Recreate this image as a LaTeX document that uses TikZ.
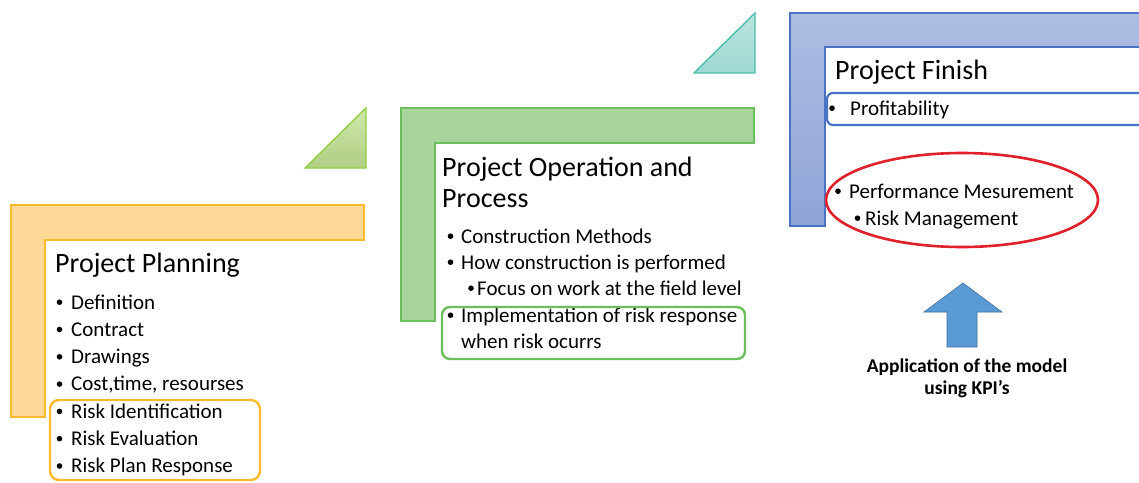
\documentclass[tikz,border=0pt]{standalone}
\usepackage{fontspec}
\setmainfont{Carlito}
\usetikzlibrary{shapes.geometric}
\definecolor{orFill}{HTML}{FDD896}
\definecolor{orLine}{HTML}{F8BA2C}
\definecolor{grFill}{HTML}{A9D59C}
\definecolor{grLine}{HTML}{6ABF5A}
\definecolor{blFillT}{HTML}{AEBDE3}
\definecolor{blFillB}{HTML}{8FA4D7}
\definecolor{blLine}{HTML}{4A72C4}
\definecolor{triGrF}{HTML}{BFE08F}
\definecolor{triGrL}{HTML}{92CF45}
\definecolor{triTeF}{HTML}{9ED8D0}
\definecolor{triTeL}{HTML}{4BBFAE}
\definecolor{arrF}{HTML}{5B9BD5}
\definecolor{arrL}{HTML}{41719C}
\definecolor{redL}{HTML}{E0202A}
\newcommand\bitem[5]{%
  \node[bdot] (#1d) at (#2,#4-6.8) {};
  \node[btext] (#1) at (#3,#4) {#5};}
\begin{document}
\begin{tikzpicture}[x=1pt,y=-1pt,
  lshape/.style={line width=1.6pt,line join=miter},
  ttl/.style={anchor=base west,inner sep=0pt,font=\fontsize{28}{33}\selectfont},
  btext/.style={anchor=base west,inner sep=0pt,font=\fontsize{21}{25}\selectfont},
  bdot/.style={circle,fill=black,inner sep=0pt,minimum size=5.6pt},
  hbox/.style={rounded corners=9pt,line width=2.4pt},
  note/.style={align=center,inner sep=0pt,font=\fontsize{19.5}{23}\selectfont\bfseries}]
\useasboundingbox (0,0) rectangle (1139,482);
\clip (0,0) rectangle (1139,482);
\fill[white] (0,0) rectangle (1139,482);
% orange L
\draw[lshape,draw=orLine,fill=orFill] (11,205) -- (364,205) -- (364,240) -- (45,240) -- (45,417) -- (11,417) -- cycle;
% green triangle
\draw[line width=1.4pt,draw=triGrL,top color=triGrF!75!white,bottom color=triGrF!92!black] (305,168) -- (366,108) -- (366,168) -- cycle;
% green L
\draw[lshape,draw=grLine,fill=grFill] (401,108) -- (754,108) -- (754,143) -- (435,143) -- (435,321) -- (401,321) -- cycle;
% teal triangle
\draw[line width=1.4pt,draw=triTeL,top color=triTeF!70!white,bottom color=triTeF] (694,73) -- (755,13) -- (755,73) -- cycle;
% blue L
\draw[lshape,draw=blLine,top color=blFillT,bottom color=blFillB] (790,13) -- (1150,13) -- (1150,47) -- (825,47) -- (825,226) -- (790,226) -- cycle;

% orange section
\node[ttl] (t1) at (55,272) {Project Planning};
\bitem{o1}{59.5}{71}{309}{Definition}
\bitem{o2}{59.5}{71}{336.3}{Contract}
\bitem{o3}{59.5}{71}{363.6}{Drawings}
\bitem{o4}{59.5}{71}{390.9}{Cost,time, resourses}
\bitem{o5}{59.5}{71}{418.2}{Risk Identification}
\bitem{o6}{59.5}{71}{445.5}{Risk Evaluation}
\bitem{o7}{59.5}{71}{472.8}{Risk Plan Response}
\draw[hbox,draw=orLine] (50,400) rectangle (260,480);

% green section
\node[ttl] (t2a) at (442,176) {Project Operation and};
\node[ttl] (t2b) at (442,207) {Process};
\bitem{g1}{450.5}{461}{243}{Construction Methods}
\bitem{g2}{450.5}{461}{269}{How construction is performed}
\bitem{g3}{471}{477}{295}{Focus on work at the field level}
\bitem{g4}{450.5}{461}{322}{Implementation of risk response}
\node[btext] (g5) at (461,348) {when risk ocurrs};
\draw[hbox,draw=grLine,rounded corners=8pt] (442,307) rectangle (745,359);

% blue section
\node[ttl] (t3) at (835,79) {Project Finish};
\bitem{b1}{832}{850}{115}{Profitability}
\draw[hbox,draw=blLine,line width=2.2pt,rounded corners=6pt] (827,93) rectangle (1160,125);
\bitem{b2}{838}{849}{198}{Performance Mesurement}
\bitem{b3}{857.5}{865}{225}{Risk Management}
\node[draw=redL,line width=2.6pt,ellipse,minimum width=272pt,minimum height=94pt,inner sep=0pt] (ell) at (962,200) {};

% arrow and note
\draw[draw=arrL,line width=0.6pt,fill=arrF] (963,283) -- (1002,312) -- (977,312) -- (977,347) -- (947,347) -- (947,312) -- (924,312) -- cycle;
\node[note,anchor=base] (n1) at (967,372) {Application of the model};
\node[note,anchor=base] (n2) at (967,394) {using KPI’s};
\end{tikzpicture}
\end{document}
